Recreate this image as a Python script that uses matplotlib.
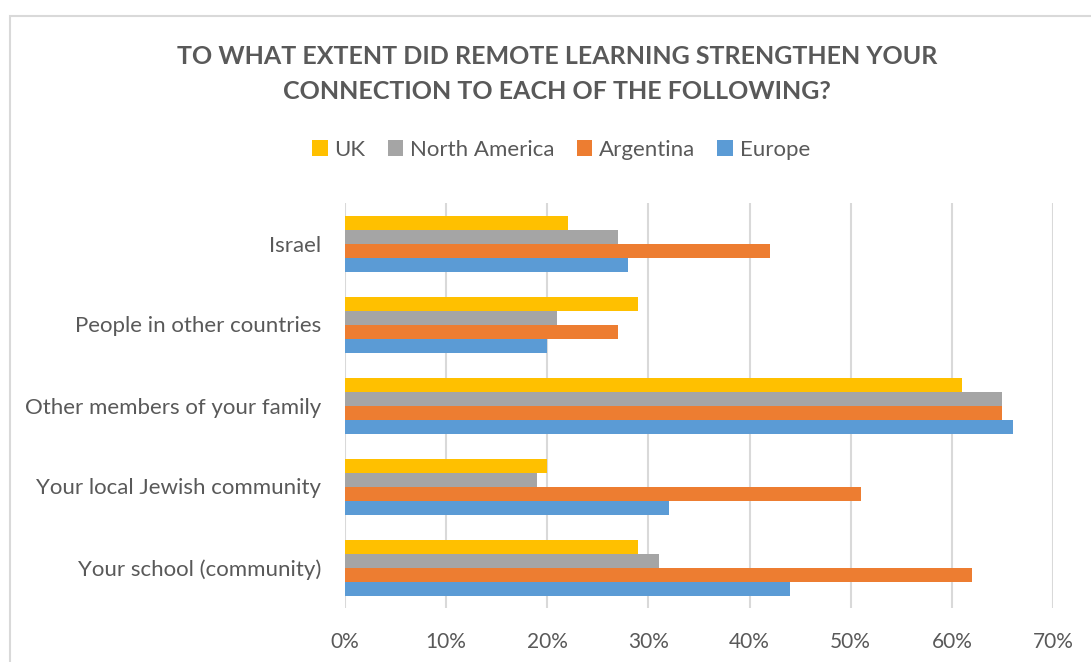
import numpy as np
import matplotlib.pyplot as plt
from matplotlib.patches import Rectangle
from matplotlib.ticker import FuncFormatter

plt.rcParams['font.family'] = ['Lato', 'DejaVu Sans']

categories = ["Your school (community)", "Your local Jewish community",
              "Other members of your family", "People in other countries", "Israel"]
series = ["UK", "North America", "Argentina", "Europe"]
uk = [29, 20, 61, 29, 22]
north_america = [31, 19, 65, 21, 27]
argentina = [62, 51, 65, 27, 42]
europe = [44, 32, 66, 20, 28]
colors = ["#FFC000", "#A5A5A5", "#ED7D31", "#5B9BD5"]

W, H = 1091, 662
fig = plt.figure(figsize=(W / 100, H / 100), dpi=100)

# light chart-area border, running off the right and bottom edges
fig.patches.append(Rectangle((10 / W, -0.1), 1.2, 1 - 16 / H + 0.1,
                             transform=fig.transFigure, fill=False,
                             edgecolor="#d9d9d9", linewidth=1.5))

ax = fig.add_axes([345 / W, 54 / H, (1053 - 345) / W, (608 - 203) / H])

y = np.arange(len(categories))
h = 14 / 81
offsets = [1.5 * h, 0.5 * h, -0.5 * h, -1.5 * h]
handles = []
for vals, off, c, name in zip([uk, north_america, argentina, europe], offsets, colors, series):
    b = ax.barh(y + off, vals, height=h, color=c, label=name, zorder=3)
    handles.append(b)

ax.set_xlim(0, 70)
ax.set_ylim(-0.5, len(categories) - 0.5)
ax.set_xticks(range(0, 71, 10))
ax.xaxis.set_major_formatter(FuncFormatter(lambda v, p: f"{int(v)}%"))
ax.set_yticks(y)
ax.set_yticklabels(categories)
ax.tick_params(length=0, labelcolor="#595959")
ax.tick_params(axis="x", pad=17, labelsize=15)
ax.tick_params(axis="y", pad=17, labelsize=16)
ax.grid(axis="x", color="#d9d9d9", linewidth=1.5, zorder=0)
for s in ax.spines.values():
    s.set_visible(False)

fig.text(557 / W, 1 - 74 / H,
         "TO WHAT EXTENT DID REMOTE LEARNING STRENGTHEN YOUR\nCONNECTION TO EACH OF THE FOLLOWING?",
         ha="center", va="center", fontsize=18, fontweight="bold", color="#595959",
         linespacing=1.66)

fig.legend(handles=handles, loc="center", bbox_to_anchor=(561 / W, 1 - 150 / H),
           ncol=4, frameon=False, fontsize=16, labelcolor="#595959",
           handlelength=0.7, handleheight=0.7, handletextpad=0.3, columnspacing=1.0)

fig.savefig("out.png", dpi=100, facecolor="white")
